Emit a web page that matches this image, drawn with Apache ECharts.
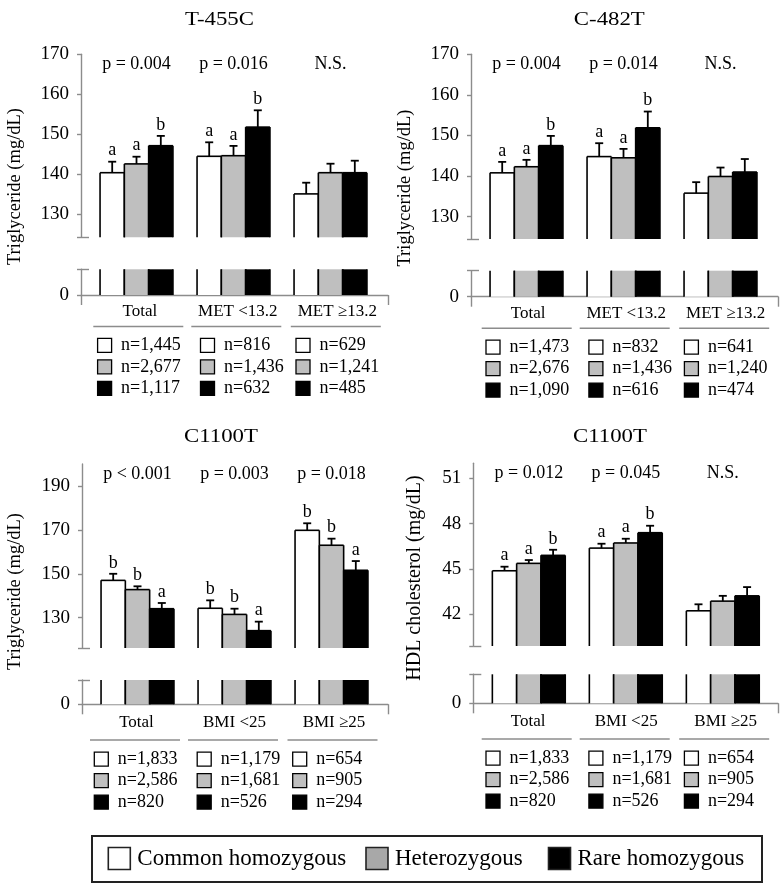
<!DOCTYPE html>
<html><head><meta charset="utf-8">
<script src="https://cdn.jsdelivr.net/npm/echarts@6/dist/echarts.min.js"></script>
<style>html,body{margin:0;padding:0;background:#fff}#c{width:782px;height:891px}</style>
</head><body><div id="c"></div>
<script>
// ---------------- DATA ----------------
const genotypes = ['Common homozygous', 'Heterozygous', 'Rare homozygous'];
const metGroups = ['Total', 'MET <13.2', 'MET \u226513.2'];
const bmiGroups = ['Total', 'BMI <25', 'BMI \u226525'];

// T-455C triglyceride
const t455cCommon = [140.4, 144.5, 135.1];
const t455cHetero = [142.6, 144.65, 140.4];
const t455cRare = [147.15, 151.8, 140.4];
const t455cCommonErr = [143.15, 148.0, 137.9];
const t455cHeteroErr = [144.4, 147.1, 142.65];
const t455cRareErr = [149.6, 156.0, 143.4];
const t455cLetters = [['a', 'a', 'b'], ['a', 'a', 'b'], ['', '', '']];
const t455cP = ['p = 0.004', 'p = 0.016', 'N.S.'];
const t455cN = [[1445, 816, 629], [2677, 1436, 1241], [1117, 632, 485]];

// C-482T triglyceride
const c482tCommon = [140.8, 144.8, 135.8];
const c482tHetero = [142.3, 144.5, 139.9];
const c482tRare = [147.5, 151.9, 141.0];
const c482tCommonErr = [143.5, 148.1, 138.5];
const c482tHeteroErr = [144.0, 146.7, 142.1];
const c482tRareErr = [149.9, 155.9, 144.2];
const c482tLetters = [['a', 'a', 'b'], ['a', 'a', 'b'], ['', '', '']];
const c482tP = ['p = 0.004', 'p = 0.014', 'N.S.'];
const c482tN = [[1473, 832, 641], [2676, 1436, 1240], [1090, 616, 474]];

// C1100T triglyceride
const c1100tTgCommon = [147.0, 134.3, 169.8];
const c1100tTgHetero = [142.8, 131.5, 163.0];
const c1100tTgRare = [134.1, 124.1, 151.6];
const c1100tTgCommonErr = [150.0, 137.9, 173.0];
const c1100tTgHeteroErr = [144.3, 134.1, 166.0];
const c1100tTgRareErr = [136.7, 128.2, 155.8];
const c1100tTgLetters = [['b', 'b', 'a'], ['b', 'b', 'a'], ['b', 'b', 'a']];
const c1100tTgP = ['p < 0.001', 'p = 0.003', 'p = 0.018'];

// C1100T HDL cholesterol
const c1100tHdlCommon = [44.88, 46.38, 42.23];
const c1100tHdlHetero = [45.37, 46.72, 42.87];
const c1100tHdlRare = [45.9, 47.4, 43.22];
const c1100tHdlCommonErr = [45.15, 46.67, 42.66];
const c1100tHdlHeteroErr = [45.59, 47.0, 43.22];
const c1100tHdlRareErr = [46.27, 47.86, 43.8];
const c1100tHdlLetters = [['a', 'a', 'b'], ['a', 'a', 'b'], ['', '', '']];
const c1100tHdlP = ['p = 0.012', 'p = 0.045', 'N.S.'];
const c1100tN = [[1833, 1179, 654], [2586, 1681, 905], [820, 526, 294]];

const tgTicks = [130, 140, 150, 160, 170];
const tgTicks2 = [130, 150, 170, 190];
const hdlTicks = [42, 45, 48, 51];

// ---------------- PANELS ----------------
const panels = [
  {title: 'T-455C', yName: 'Triglyceride (mg/dL)', groups: metGroups,
   means: [t455cCommon, t455cHetero, t455cRare], errs: [t455cCommonErr, t455cHeteroErr, t455cRareErr],
   letters: t455cLetters, pvals: t455cP, n: t455cN, ticks: tgTicks, min: 124.25, max: 170},
  {title: 'C-482T', yName: 'Triglyceride (mg/dL)', groups: metGroups,
   means: [c482tCommon, c482tHetero, c482tRare], errs: [c482tCommonErr, c482tHeteroErr, c482tRareErr],
   letters: c482tLetters, pvals: c482tP, n: c482tN, ticks: tgTicks, min: 124.5, max: 170},
  {title: 'C1100T', yName: 'Triglyceride (mg/dL)', groups: bmiGroups,
   means: [c1100tTgCommon, c1100tTgHetero, c1100tTgRare], errs: [c1100tTgCommonErr, c1100tTgHeteroErr, c1100tTgRareErr],
   letters: c1100tTgLetters, pvals: c1100tTgP, n: c1100tN, ticks: tgTicks2, min: 116.2, max: 200},
  {title: 'C1100T', yName: 'HDL cholesterol (mg/dL)', groups: bmiGroups,
   means: [c1100tHdlCommon, c1100tHdlHetero, c1100tHdlRare], errs: [c1100tHdlCommonErr, c1100tHdlHeteroErr, c1100tHdlRareErr],
   letters: c1100tHdlLetters, pvals: c1100tHdlP, n: c1100tN, ticks: hdlTicks, min: 39.9, max: 52}
];

// ---------------- LAYOUT ----------------
const layouts = [
  {ax: 81, upTop: 54.3, upBot: 237.3, lowTop: 269.3, zero: 295, right: 388, tx: 219.5, ty: 20, yx: 15.5, yy: 186.5, yfs: 18.5, sep: 12.3, cat: 17, sepY: 31.5, row0: 50.4},
  {ax: 471, upTop: 54.3, upBot: 239, lowTop: 270.7, zero: 296.7, right: 778, tx: 609.3, ty: 20, yx: 405, yy: 188, yfs: 18.5, sep: 10.7, cat: 17, sepY: 31.5, row0: 50.4},
  {ax: 82, upTop: 464, upBot: 648, lowTop: 680, zero: 704.3, right: 388, tx: 221, ty: 437, yx: 15, yy: 591.5, yfs: 18.5, sep: 8, cat: 18.7, sepY: 35.7, row0: 54.8},
  {ax: 473.3, upTop: 463.2, upBot: 646, lowTop: 674.3, zero: 703.3, right: 778, tx: 610, ty: 437, yx: 415, yy: 578, yfs: 20, sep: 8.4, cat: 18.7, sepY: 35.7, row0: 54.8}
];

const FF = '"Liberation Serif","Times New Roman",serif';
const AX = '#8c8c8c';
const FILLS = ['#ffffff', '#bfbfbf', '#000000'];
const BW = 24.3;
const LOW_MAX = 6;

function txt(text, x, y, size, align, valign, extra) {
  return Object.assign({
    type: 'text', x: x, y: y, silent: true,
    style: {text: text, fill: '#000', fontSize: size, fontFamily: FF,
      align: align, verticalAlign: valign, textAlign: align, textVerticalAlign: valign}
  }, extra || {});
}

function upperRender(P) {
  return function (params, api) {
    const cs = params.coordSys;
    const cat = api.value(0), g = api.value(1);
    const p = api.coord([cat, api.value(2)]);
    const pe = api.coord([cat, api.value(3)]);
    const cx = p[0] + (g - 1) * BW;
    const x0 = cx - BW / 2, x1 = cx + BW / 2;
    const yb = cs.y + cs.height;
    const yt = Math.max(p[1], cs.y);
    const ls = {stroke: '#000', lineWidth: 1.6};
    const ch = [
      {type: 'rect', shape: {x: x0, y: yt, width: BW, height: yb - yt}, style: {fill: FILLS[g]}},
      {type: 'line', shape: {x1: x0, y1: yt, x2: x0, y2: yb}, style: ls},
      {type: 'line', shape: {x1: x1, y1: yt, x2: x1, y2: yb}, style: ls},
      {type: 'line', shape: {x1: x0, y1: yt, x2: x1, y2: yt}, style: ls},
      {type: 'line', shape: {x1: cx, y1: yt, x2: cx, y2: pe[1]}, style: {stroke: '#000', lineWidth: 1.8}},
      {type: 'line', shape: {x1: cx - 4, y1: pe[1], x2: cx + 4, y2: pe[1]}, style: {stroke: '#000', lineWidth: 1.8}}
    ];
    const letter = P.letters[cat][g];
    if (letter) ch.push(txt(letter, cx, pe[1] - 2, 18, 'center', 'bottom'));
    if (g === 1) ch.push(txt(P.pvals[cat], p[0], cs.y + 10, 18, 'center', 'middle'));
    return {type: 'group', children: ch};
  };
}

function lowerRender(params, api) {
  const cs = params.coordSys;
  const cat = api.value(0), g = api.value(1);
  const p = api.coord([cat, api.value(2)]);
  const cx = p[0] + (g - 1) * BW;
  const x0 = cx - BW / 2, x1 = cx + BW / 2;
  const yb = cs.y + cs.height;
  const yt = Math.max(p[1], cs.y);
  const ls = {stroke: '#000', lineWidth: 1.6};
  return {type: 'group', children: [
    {type: 'rect', shape: {x: x0, y: yt, width: BW, height: yb - yt}, style: {fill: FILLS[g]}},
    {type: 'line', shape: {x1: x0, y1: yt, x2: x0, y2: yb}, style: ls},
    {type: 'line', shape: {x1: x1, y1: yt, x2: x1, y2: yb}, style: ls}
  ]};
}

const grid = [], xAxis = [], yAxis = [], series = [], graphic = [];
const axLine = {show: true, lineStyle: {color: AX, width: 1.4}};
const tickStyle = {color: AX, width: 1.4};

panels.forEach(function (P, pi) {
  const L = layouts[pi];
  const gi = grid.length;
  grid.push({left: L.ax + 7, top: L.upTop, width: 291, height: L.upBot - L.upTop, containLabel: false, outerBoundsMode: 'none'});
  grid.push({left: L.ax + 7, top: L.lowTop, width: 291, height: L.zero - L.lowTop, containLabel: false, outerBoundsMode: 'none'});
  grid.push({left: L.ax, top: L.zero - 10, width: L.right - L.ax, height: 10, containLabel: false, outerBoundsMode: 'none'});
  xAxis.push({gridIndex: gi, type: 'category', data: P.groups, show: false});
  xAxis.push({gridIndex: gi + 1, type: 'category', data: P.groups, show: false});
  xAxis.push({gridIndex: gi + 2, type: 'value', min: 0, max: 1, interval: 1, position: 'bottom', axisLine: axLine,
    axisTick: {show: true, length: 10, lineStyle: tickStyle}, axisLabel: {show: false}, splitLine: {show: false}});
  const yi = yAxis.length;
  yAxis.push({gridIndex: gi, type: 'value', position: 'left', min: P.min, max: P.max, offset: 7, axisLine: axLine,
    axisTick: {show: true, length: 4, customValues: P.ticks.concat([P.min]), lineStyle: tickStyle},
    axisLabel: {customValues: P.ticks, fontSize: 19, fontFamily: FF, color: '#000', margin: 12},
    splitLine: {show: false}});
  yAxis.push({gridIndex: gi, type: 'value', position: 'left', min: P.min, max: P.max, offset: 7, axisLine: {show: false},
    axisTick: {show: true, inside: true, length: 8, customValues: [P.min], lineStyle: tickStyle},
    axisLabel: {show: false}, splitLine: {show: false}});
  yAxis.push({gridIndex: gi + 1, type: 'value', position: 'left', min: 0, max: LOW_MAX, offset: 7, axisLine: axLine,
    axisTick: {show: true, length: 4, customValues: [0, LOW_MAX], lineStyle: tickStyle},
    axisLabel: {customValues: [0], fontSize: 19, fontFamily: FF, color: '#000', margin: 12},
    splitLine: {show: false}});
  yAxis.push({gridIndex: gi + 1, type: 'value', position: 'left', min: 0, max: LOW_MAX, offset: 7, axisLine: {show: false},
    axisTick: {show: true, inside: true, length: 8, customValues: [LOW_MAX], lineStyle: tickStyle},
    axisLabel: {show: false}, splitLine: {show: false}});
  yAxis.push({gridIndex: gi + 2, type: 'value', position: 'left', min: 0, max: 1, show: false});

  const data = [];
  for (let i = 0; i < P.groups.length; i++) {
    for (let g = 0; g < 3; g++) data.push([i, g, P.means[g][i], P.errs[g][i]]);
  }
  series.push({type: 'custom', name: P.title + ' upper', xAxisIndex: gi, yAxisIndex: yi,
    dimensions: ['cat', 'geno', 'mean', 'err'], encode: {x: 0, y: [2, 3]},
    renderItem: upperRender(P), data: data, silent: true});
  series.push({type: 'custom', name: P.title + ' lower', xAxisIndex: gi + 1, yAxisIndex: yi + 2,
    dimensions: ['cat', 'geno', 'mean', 'err'], encode: {x: 0, y: 2},
    renderItem: lowerRender, data: data, silent: true});

  // title & y name
  graphic.push(txt(P.title, L.tx, L.ty, 19, 'center', 'middle', {scaleX: 1.2}));
  graphic.push(txt(P.yName, L.yx, L.yy, L.yfs, 'center', 'middle', {rotation: Math.PI / 2}));

  // category labels, separators and n-table
  const colOff = [0, 98, 197.5];
  const boxOff = [4.3, 9.2, 5.2];
  P.groups.forEach(function (name, c) {
    const sx = L.ax + L.sep + colOff[c];
    graphic.push(txt(name, sx + 46.5, L.zero + L.cat, 17, 'center', 'middle'));
    graphic.push({type: 'line', silent: true, shape: {x1: sx, y1: L.zero + L.sepY, x2: sx + 90, y2: L.zero + L.sepY},
      style: {stroke: AX, lineWidth: 1.6}});
    for (let g = 0; g < 3; g++) {
      const ry = L.zero + L.row0 + g * 21.5;
      const bx = sx + boxOff[c];
      graphic.push({type: 'rect', silent: true, shape: {x: bx, y: ry - 7, width: 14, height: 14},
        style: {fill: FILLS[g], stroke: '#000', lineWidth: 1.3}});
      graphic.push(txt('n=' + P.n[g][c].toLocaleString('en-US'), bx + 23.5, ry, 18, 'left', 'middle'));
    }
  });
});

// legend
graphic.push({type: 'rect', silent: true, shape: {x: 92, y: 836, width: 670, height: 46},
  style: {fill: 'none', stroke: '#222', lineWidth: 2}});
const legX = [108.3, 366, 548.5];
const legFill = ['#ffffff', '#a8a8a8', '#000000'];
genotypes.forEach(function (name, g) {
  graphic.push({type: 'rect', silent: true, shape: {x: legX[g], y: 847.5, width: 22, height: 22},
    style: {fill: legFill[g], stroke: '#222', lineWidth: 1.6}});
  graphic.push(txt(name, legX[g] + 29, 858.5, 23, 'left', 'middle'));
});

const chart = echarts.init(document.getElementById('c'), null, {renderer: 'canvas'});
chart.setOption({
  animation: false,
  backgroundColor: '#fff',
  textStyle: {fontFamily: FF},
  grid: grid, xAxis: xAxis, yAxis: yAxis, series: series, graphic: graphic
});
</script>
</body></html>
